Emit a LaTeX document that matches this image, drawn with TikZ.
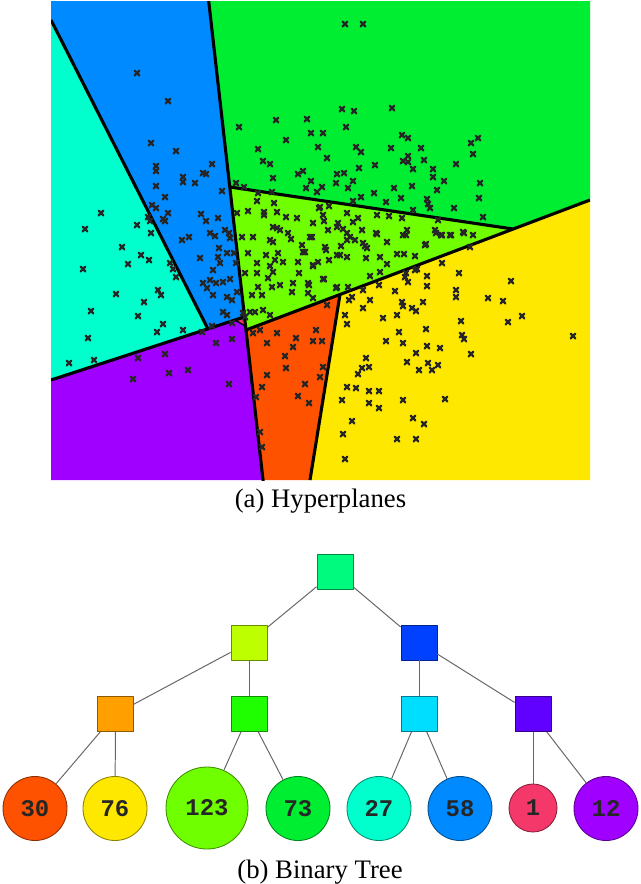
\documentclass[tikz,border=0pt]{standalone}
\usepackage{fontspec}
\setmainfont{Liberation Serif}
\newfontfamily\leaffont{Liberation Mono}

\definecolor{cCyan}{RGB}{0,255,204}
\definecolor{cBlue}{RGB}{0,138,255}
\definecolor{cGreen}{RGB}{0,238,50}
\definecolor{cLime}{RGB}{112,255,0}
\definecolor{cYellow}{RGB}{255,232,0}
\definecolor{cOrange}{RGB}{255,82,0}
\definecolor{cPurple}{RGB}{160,0,255}
\definecolor{cRed}{RGB}{245,56,106}
\definecolor{tRoot}{RGB}{0,250,125}
\definecolor{tL}{RGB}{190,255,0}
\definecolor{tR}{RGB}{0,64,255}
\definecolor{tLL}{RGB}{255,160,0}
\definecolor{tLR}{RGB}{32,255,0}
\definecolor{tRL}{RGB}{0,222,255}
\definecolor{tRR}{RGB}{96,0,255}

\begin{document}
\begin{tikzpicture}[x=0.025cm,y=-0.025cm,line join=round,
  sqnode/.style={draw=#1!55!black,fill=#1,minimum width=0.9cm,minimum height=0.875cm,inner sep=0pt,line width=0.6pt},
  leaf/.style={circle,draw=#1!55!black,fill=#1,minimum size=1.6cm,inner sep=0pt,line width=0.6pt,
    font=\leaffont\bfseries\fontsize{17}{17}\selectfont,text=black!85},
  link/.style={draw=black!60,line width=0.7pt},
  split/.style={line width=2.2pt,black},
  xmk/.style={line width=1.7pt,black!85,line cap=round},
  caption/.style={anchor=base,font=\fontsize{19}{22}\selectfont}]
  \useasboundingbox (0,0) rectangle (640,884);
  % hyperplane regions
  \begin{scope}
    \clip (51,1) rectangle (590,480);
    \fill[cCyan] (51,20) -- (208,329) -- (51,380) -- cycle;
    \fill[cBlue] (51,1) -- (208,1) -- (244.2,317) -- (208,329) -- (51,20) -- cycle;
    \fill[cPurple] (51,380) -- (235,320) -- (245.3,326) -- (263,480) -- (51,480) -- cycle;
    \fill[cRed] (244.2,317) -- (235,320) -- (245.3,326) -- cycle;
    \fill[cGreen] (208,1) -- (590,1) -- (590,200) -- (513,229) -- (230,187) -- cycle;
    \fill[cLime] (230,187) -- (513,229) -- (246,330) -- cycle;
    \fill[cOrange] (246,330) -- (340,294.5) -- (310,480) -- (263,480) -- cycle;
    \fill[cYellow] (340,294.5) -- (590,200) -- (590,480) -- (310,480) -- cycle;
    \draw[split] (208,-5) -- (263.6,485);
    \draw[split] (51,20) -- (208,329);
    \draw[split] (51,380) -- (244.2,317);
    \draw[split] (246,330) -- (590,200);
    \draw[split] (230,187) -- (513,229);
    \draw[split] (340,294.5) -- (310,480);
    \draw[line width=1pt] (235,320) -- (245.3,326);
    \foreach \p in {(137,73),(168,101),(151,143),(176,151),(156,166),(156,171),(212,164),(183,177),(183,182),(195,183),
      (203,173),(206,174),(156,186),(222,191),(165,197),(152,205),(156,208),(168,213),(148,217),(150,221),(163,219),
      (165,221),(201,214),(206,221),(218,218),(101,213),(85,229),(137,225),(151,233),(122,247),(182,240),(189,237),
      (210,233),(215,236),(225,230),(229,233),(230,238),(219,248),
      (239,127),(276,120),(307,119),(286,140),(311,133),(323,133),(258,149),(318,147),(263,161),(270,164),(327,158),
      (273,178),(298,174),(303,171),(311,181),(337,174),(336,183),(236,183),(244,187),(306,188),(317,192),(322,187),
      (258,193),(272,192),(345,24),(363,24),(342,109),(354,111),(392,108),(346,127),(402,135),(408,138),(356,147),
      (361,152),(391,148),(421,148),(471,143),(478,138),(473,154),(408,156),(403,161),(408,162),(424,160),(359,168),
      (375,165),(413,169),(433,169),(456,164),(344,173),(433,177),(444,181),(480,183),(353,181),(348,188),(374,193),
      (394,188),(412,186),(437,190),(479,198),(361,197),(353,201),(386,202),(401,198),(427,199),(428,204),(430,208),
      (454,208),(320,207),(413,210),(483,217),(347,213),(358,218),(377,215),(389,216),(402,218),(438,220),
      (257,201),(274,203),(248,211),(264,212),(264,215),(277,212),(286,217),(297,218),(319,208),(329,206),(323,215),
      (324,221),(237,213),(273,227),(277,228),(280,230),(288,233),(313,223),(312,237),(328,230),(242,237),(253,237),
      (270,240),(273,242),(291,239),(302,245),(325,247),(337,227),(338,223),(343,229),(353,222),(407,230),(435,230),
      (442,235),(450,235),(463,232),(473,235),(347,233),(362,230),(377,234),(387,242),(403,235),(425,245),(310,237),
      (347,240),(365,246),(355,240),
      (141,255),(149,260),(128,264),(83,269),(170,263),(173,269),(176,277),(116,294),(158,290),(161,295),(144,302),
      (91,311),(138,316),(163,324),(157,332),(88,338),(69,363),(94,360),
      (200,258),(218,257),(220,263),(227,253),(234,253),(213,270),(210,280),(216,283),(223,282),(230,279),(203,283),
      (207,288),(213,295),(227,297),(232,300),(223,312),(227,315),(236,263),(237,292),(183,330),
      (202,332),(212,326),(232,323),(232,339),(216,343),(138,358),(165,354),(133,379),(169,373),(188,370),(229,384),
      (248,253),(257,263),(266,255),(278,253),(275,260),(270,266),(273,272),(283,262),(303,252),(298,262),(313,265),
      (318,262),(329,260),(326,250),(337,255),(245,273),(257,273),(268,278),(258,287),(272,287),(280,285),(293,283),
      (308,283),(323,279),(299,273),(252,295),(262,295),(292,292),(308,293),(313,298),(336,288),(243,313),(250,312),
      (255,312),(263,310),(270,315),(245,317),
      (253,333),(260,330),(267,343),(277,333),(296,338),(293,347),(313,341),(322,341),(316,330),(327,305),(285,356),
      (286,368),(267,375),(323,367),(320,377),(305,384),(298,396),(309,403),(262,387),(256,397),(260,432),(262,447),
      (442,263),(459,273),(511,281),(395,291),(427,276),(427,286),(408,282),(405,277),(415,270),(379,285),(370,300),
      (363,308),(352,297),(349,300),(402,302),(403,306),(412,308),(416,311),(423,302),(456,290),(456,297),(488,298),
      (503,301),(345,315),(347,324),(383,318),(397,315),(461,321),(508,322),(522,316),(573,336),(399,332),(426,329),
      (386,341),(403,343),(462,335),(464,339),(427,346),(440,348),(416,353),(471,354),(366,358),(369,367),(362,368),
      (358,374),(407,362),(428,363),(419,370),(432,370),(438,365),(347,387),(356,388),(369,391),(379,391),(369,403),
      (379,408),(342,400),(403,400),(445,399),(352,421),(343,434),(413,418),(424,424),(397,439),(416,439),(345,459),
      (305,252),(313,266),(324,279),(340,255),(347,257),(366,258),(380,257),(387,264),(397,254),(404,254),(415,256),
      (417,269),(406,273),(380,272),(370,276),(363,290),(337,287),(309,285),(348,287),(470,247),(341,246),(350,237),
      (363,243),(367,248),(376,233),(406,235),(426,244),(436,233),(441,235),(451,235),(464,233)}
      \draw[xmk] \p +(-2.4,-2.4) -- +(2.4,2.4) \p +(-2.4,2.4) -- +(2.4,-2.4);
  \end{scope}
  \node[caption] (capA) at (320.5,507) {(a) Hyperplanes};

  % binary tree
  \node[sqnode=tRoot] (root) at (335,571.5) {};
  \node[sqnode=tL] (nL) at (249,642.5) {};
  \node[sqnode=tR] (nR) at (419,642.5) {};
  \node[sqnode=tLL] (nLL) at (115.5,714) {};
  \node[sqnode=tLR] (nLR) at (249,714) {};
  \node[sqnode=tRL] (nRL) at (419,714) {};
  \node[sqnode=tRR] (nRR) at (533,714) {};
  \node[leaf=cOrange] (l30) at (35,808.5) {30};
  \node[leaf=cYellow] (l76) at (115,808.5) {76};
  \node[leaf=cLime,minimum size=2.05cm] (l123) at (207,808) {123};
  \node[leaf=cGreen] (l73) at (298,808.5) {73};
  \node[leaf=cCyan] (l27) at (379,808.5) {27};
  \node[leaf=cBlue] (l58) at (460,808.5) {58};
  \node[leaf=cRed,minimum size=1.2cm] (l1) at (533,808) {1};
  \node[leaf=cPurple] (l12) at (606,808.5) {12};
  \draw[link] (root) -- (nL);
  \draw[link] (root) -- (nR);
  \draw[link] (nL) -- (nLL);
  \draw[link] (nL) -- (nLR);
  \draw[link] (nR) -- (nRL);
  \draw[link] (nR) -- (nRR);
  \draw[link] (nLL) -- (l30);
  \draw[link] (nLL) -- (l76);
  \draw[link] (nLR) -- (l123);
  \draw[link] (nLR) -- (l73);
  \draw[link] (nRL) -- (l27);
  \draw[link] (nRL) -- (l58);
  \draw[link] (nRR) -- (l1);
  \draw[link] (nRR) -- (l12);
  \node[caption] (capB) at (320,878) {(b) Binary Tree};
\end{tikzpicture}
\end{document}
